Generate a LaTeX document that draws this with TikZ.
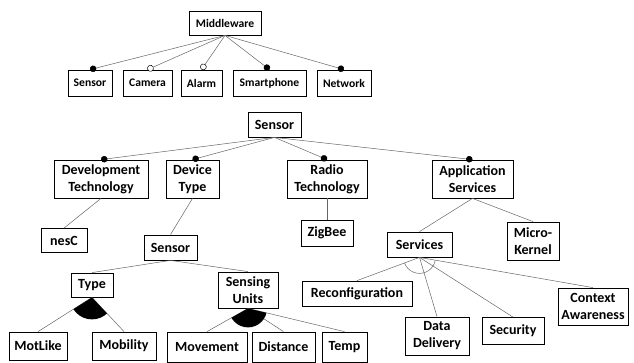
\documentclass[tikz,border=0pt]{standalone}
\usepackage{fontspec}
\setmainfont{Carlito}
\usetikzlibrary{arrows.meta}

\begin{document}
\begin{tikzpicture}[x=1pt,y=-1pt,
    feat/.style={rectangle,draw,line width=0.8pt,inner sep=0pt,align=center,anchor=center,font=\bfseries\fontsize{14}{17}\selectfont},
    topfeat/.style={feat,font=\bfseries\fontsize{11.6}{14}\selectfont},
    link/.style={draw=black!60,line width=0.5pt},
    mand/.style={link,-{Circle[length=6.5pt,color=black]}},
    opt/.style={link,-{Circle[open,length=6.5pt,color=black,fill=white]}}]
    \useasboundingbox (0,0) rectangle (634,363);
    % middleware tree
    \node[topfeat,minimum width=72pt,minimum height=24pt] at (225,23) (mw) {Middleware};
    \node[topfeat,minimum width=44pt,minimum height=26pt] at (90,83) (msensor) {Sensor};
    \node[topfeat,minimum width=49pt,minimum height=26pt] at (147.5,83) (camera) {Camera};
    \node[topfeat,minimum width=41pt,minimum height=26pt] at (201.5,83) (alarm) {Alarm};
    \node[topfeat,minimum width=73pt,minimum height=26pt] at (269.5,83) (phone) {Smartphone};
    \node[topfeat,minimum width=54pt,minimum height=26pt] at (344,83) (network) {Network};
    \draw[mand] (mw.south) -- (msensor.north);
    \draw[opt] (mw.south) -- (camera.north);
    \draw[opt] (mw.south) -- (alarm.north);
    \draw[mand] (mw.south) -- (phone.north);
    \draw[mand] (mw.south) -- (network.north);
    % sensor tree
    \node[feat,minimum width=53pt,minimum height=25pt] at (274.5,124.5) (sensor) {Sensor};
    \node[feat,minimum width=94pt,minimum height=38pt] at (101,179) (devtech) {Development\\Technology};
    \node[feat,minimum width=53pt,minimum height=38pt] at (192.5,179) (devtype) {Device\\Type};
    \node[feat,minimum width=80pt,minimum height=38pt] at (327,179) (radio) {Radio\\Technology};
    \node[feat,minimum width=81pt,minimum height=38pt] at (472.5,179) (appserv) {Application\\Services};
    \draw[mand] (sensor.south) -- (devtech.north);
    \draw[mand] (sensor.south) -- (devtype.north);
    \draw[mand] (sensor.south) -- (radio.north);
    \draw[mand] (sensor.south) -- (appserv.north);
    \node[feat,minimum width=46pt,minimum height=24pt] at (64,240.5) (nesc) {nesC};
    \node[feat,minimum width=53pt,minimum height=25pt] at (170.5,247.5) (sensorb) {Sensor};
    \node[feat,minimum width=52pt,minimum height=26pt] at (327,233) (zigbee) {ZigBee};
    \node[feat,minimum width=65pt,minimum height=25pt] at (419.5,244.5) (services) {Services};
    \node[feat,minimum width=52pt,minimum height=38pt] at (533,241) (kernel) {Micro-\\Kernel};
    \draw[link] (devtech.south) -- (nesc.north);
    \draw[link] (devtype.south) -- (sensorb.north);
    \draw[link] (radio.south) -- (zigbee.north);
    \draw[link] (appserv.south) -- (services.north);
    \draw[link] (appserv.south) -- (kernel.north);
    % sensor details
    \node[feat,minimum width=42pt,minimum height=24pt] at (92,285) (type) {Type};
    \node[feat,minimum width=60pt,minimum height=36pt] at (248,290) (sensing) {Sensing\\Units};
    \draw[link] (sensorb.south) -- (type.north);
    \draw[link] (sensorb.south) -- (sensing.north);
    \node[feat,minimum width=58pt,minimum height=28pt] at (38,346) (motlike) {MotLike};
    \node[feat,minimum width=64pt,minimum height=28pt] at (124,346) (mobility) {Mobility};
    \node[feat,minimum width=80pt,minimum height=30pt] at (207,347) (movement) {Movement};
    \node[feat,minimum width=63pt,minimum height=30pt] at (283.5,347) (distance) {Distance};
    \node[feat,minimum width=45pt,minimum height=30pt] at (344.5,347) (temp) {Temp};
    \draw[link] (type.south) -- (motlike.north);
    \draw[link] (type.south) -- (mobility.north);
    \draw[link] (sensing.south) -- (movement.north);
    \draw[link] (sensing.south) -- (distance.north);
    \draw[link] (sensing.south) -- (temp.north);
    \begin{scope}
        \clip (type.south) -- (motlike.north) -- (mobility.north) -- cycle;
        \fill (type.south) circle (22pt);
    \end{scope}
    \begin{scope}
        \clip (sensing.south) -- (movement.north) -- (temp.north) -- cycle;
        \fill (sensing.south) circle (19pt);
    \end{scope}
    % services
    \node[feat,minimum width=110pt,minimum height=25pt] at (357,293.5) (reconf) {Reconfiguration};
    \node[feat,minimum width=64pt,minimum height=38pt] at (437,336) (delivery) {Data\\Delivery};
    \node[feat,minimum width=62pt,minimum height=27pt] at (513,331) (security) {Security};
    \node[feat,minimum width=70pt,minimum height=37pt] at (593,306.5) (context) {Context\\Awareness};
    \draw[link] (services.south) -- (reconf.north);
    \draw[link] (services.south) -- (delivery.north);
    \draw[link] (services.south) -- (security.north);
    \draw[link] (services.south) -- (context.north);
    \begin{scope}
        \clip (services.south) -- (reconf.north) -- (context.north) -- cycle;
        \draw[link] (services.south) circle (16pt);
    \end{scope}
\end{tikzpicture}
\end{document}
